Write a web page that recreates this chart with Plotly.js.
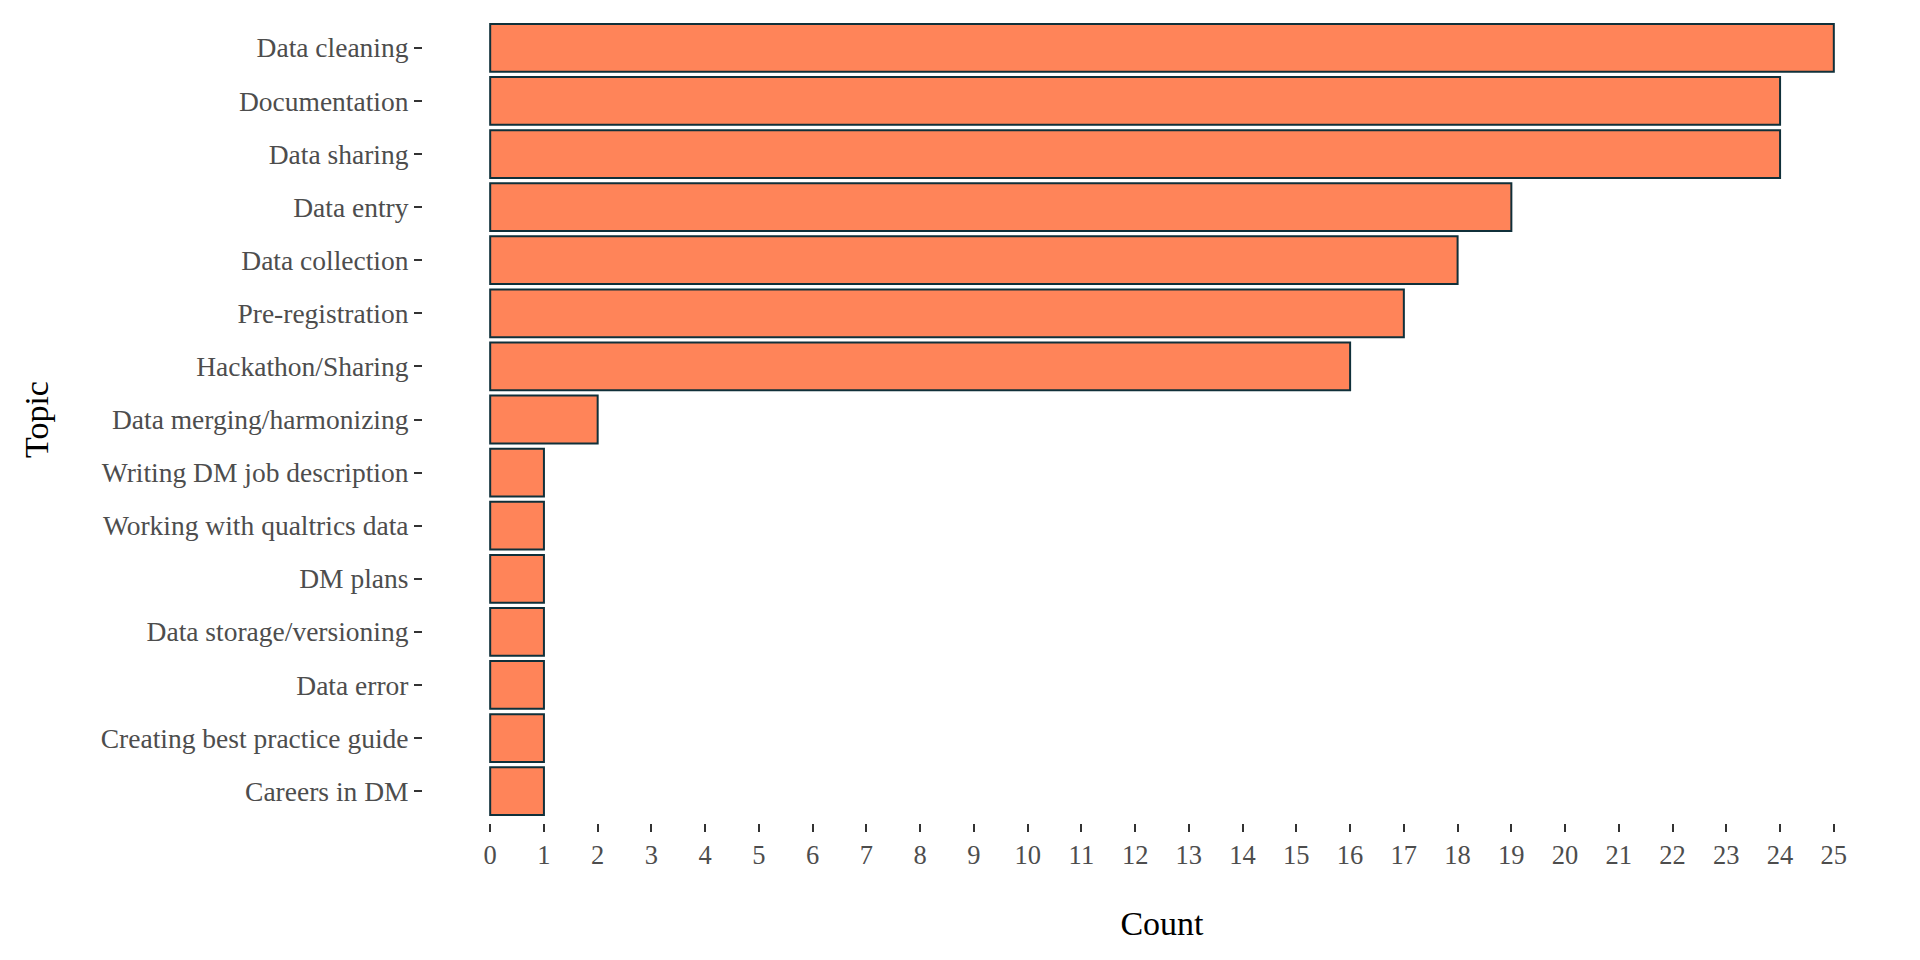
<!DOCTYPE html>
<html>
<head>
<meta charset="utf-8">
<script src="https://cdn.plot.ly/plotly-3.0.1.min.js"></script>
<style>html,body{margin:0;padding:0;background:#fff;}#chart{width:1920px;height:960px;}</style>
</head>
<body>
<div id="chart"></div>
<script>
// Categories listed bottom to top
const topics = [
  "Careers in DM",
  "Creating best practice guide",
  "Data error",
  "Data storage/versioning",
  "DM plans",
  "Working with qualtrics data",
  "Writing DM job description",
  "Data merging/harmonizing",
  "Hackathon/Sharing",
  "Pre-registration",
  "Data collection",
  "Data entry",
  "Data sharing",
  "Documentation",
  "Data cleaning"
];
const counts = [1, 1, 1, 1, 1, 1, 1, 2, 16, 17, 18, 19, 24, 24, 25];
const xTicks = [0,1,2,3,4,5,6,7,8,9,10,11,12,13,14,15,16,17,18,19,20,21,22,23,24,25];

const font = "Liberation Serif, Times New Roman, serif";

const trace = {
  type: "bar",
  orientation: "h",
  x: counts,
  y: topics,
  marker: {color: "#FF8459", line: {color: "#10303A", width: 2}},
  hoverinfo: "x+y"
};

const layout = {
  width: 1920,
  height: 960,
  margin: {l: 423, r: 19, t: 16, b: 137},
  paper_bgcolor: "#ffffff",
  plot_bgcolor: "#ffffff",
  bargap: 0.1,
  showlegend: false,
  font: {family: font, color: "#4D4D4D", size: 27},
  xaxis: {
    range: [-1.25, 26.25],
    tickmode: "array",
    tickvals: xTicks,
    ticktext: xTicks.map(String),
    ticks: "outside",
    ticklen: 8,
    tickwidth: 2,
    tickcolor: "#333333",
    showgrid: false,
    zeroline: false,
    showline: false,
    tickfont: {family: font, size: 26.5, color: "#4D4D4D"},
    title: {text: "Count", font: {family: font, size: 34, color: "#000000"}, standoff: 42},
    automargin: false
  },
  yaxis: {
    type: "category",
    range: [-0.6, 14.6],
    ticks: "outside",
    ticklen: 8,
    tickwidth: 2,
    tickcolor: "#333333",
    showgrid: false,
    zeroline: false,
    showline: false,
    tickfont: {family: font, size: 27.5, color: "#4D4D4D"},
    title: {text: "Topic", font: {family: font, size: 34, color: "#000000"}, standoff: 41},
    automargin: false
  }
};

Plotly.newPlot("chart", [trace], layout, {displayModeBar: false, staticPlot: true});
</script>
</body>
</html>
